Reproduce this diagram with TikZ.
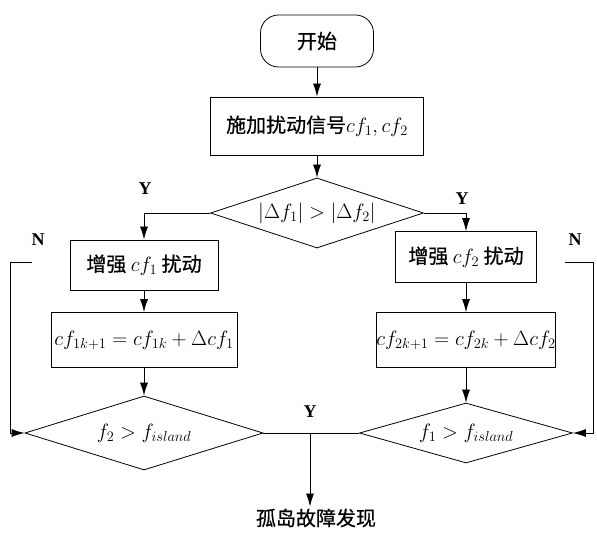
\documentclass[tikz,border=0pt]{standalone}
\usepackage{fontspec}
\setmainfont{Liberation Serif}
\newfontfamily\cjk{Noto Sans CJK SC}[FakeBold=0.6]
\usetikzlibrary{shapes.geometric,arrows.meta,calc}
\tikzset{
  box/.style={draw, line width=0.8pt, rectangle, inner sep=0pt, font=\cjk\fontsize{20}{24}\selectfont},
  term/.style={draw, line width=0.8pt, rounded corners=18pt, inner sep=0pt, font=\cjk\fontsize{20}{24}\selectfont},
  dia/.style={draw, line width=0.8pt, diamond, shape aspect=3, inner sep=0pt, font=\fontsize{22}{24}\selectfont},
  lab/.style={font=\bfseries\fontsize{18}{20}\selectfont},
  arr/.style={line width=0.8pt, -{Latex[length=13pt,width=8pt]}},
  ln/.style={line width=0.8pt}
}
\begin{document}
\begin{tikzpicture}[x=1pt,y=-1pt]
\useasboundingbox (0,0) rectangle (597,534);
\node[term, minimum width=113pt, minimum height=52pt] (start) at (317,41) {开始};
\node[box, minimum width=213pt, minimum height=58pt] (apply) at (317,126) {施加扰动信号$cf_1,cf_2$};
\node[dia, minimum width=213pt, minimum height=70pt] (d1) at (317,213) {$|\Delta f_1|>|\Delta f_2|$};
\node[box, minimum width=148pt, minimum height=50pt] (L1) at (144,265) {增强 $cf_1$ 扰动};
\node[box, minimum width=186pt, minimum height=55pt, font=\fontsize{22}{24}\selectfont] (L2) at (144,340) {$cf_{1k+1}=cf_{1k}+\Delta cf_1$};
\node[box, minimum width=141pt, minimum height=51pt] (R1) at (466,257) {增强 $cf_2$ 扰动};
\node[box, minimum width=175pt, minimum height=55pt, font=\fontsize{22}{24}\selectfont] (R2) at (466,340) {$cf_{2k+1}=cf_{2k}+\Delta cf_2$};
\node[dia, minimum width=238pt, minimum height=74pt] (DL) at (144,433) {$f_2>f_{island}$};
\node[dia, minimum width=213pt, minimum height=60pt] (DR) at (466,433) {$f_1>f_{island}$};
\node[font=\cjk\fontsize{20}{24}\selectfont, inner sep=2pt] (end) at (316,518) {孤岛故障发现};

\draw[arr] (start.south) -- (apply.north);
\draw[arr] (apply.south) -- (d1.north);
\draw[arr] (d1.west) -| (L1.north);
\draw[arr] (d1.east) -| (R1.north);
\draw[arr] (L1.south) -- (L2.north);
\draw[arr] (L2.south) -- (DL.north);
\draw[arr] (R1.south) -- (R2.north);
\draw[arr] (R2.south) -- (DR.north);
\draw[ln] (DL.east) -- (DR.west);
\coordinate (mid) at (310,433);
\draw[arr] (mid) -- (mid |- end.north);

\coordinate (nL) at (32,262);
\coordinate (cL) at (10,262);
\draw[arr] (nL) -- (cL) |- (DL.west);
\coordinate (nR) at (565,262);
\coordinate (cR) at (593,262);
\draw[arr] (nR) -- (cR) |- (DR.east);

\node[lab] (y1) at (145,189) {Y};
\node[lab] (y2) at (462,199) {Y};
\node[lab] (y3) at (310,412) {Y};
\node[lab] (n1) at (38,240) {N};
\node[lab] (n2) at (575,240) {N};
\end{tikzpicture}
\end{document}
